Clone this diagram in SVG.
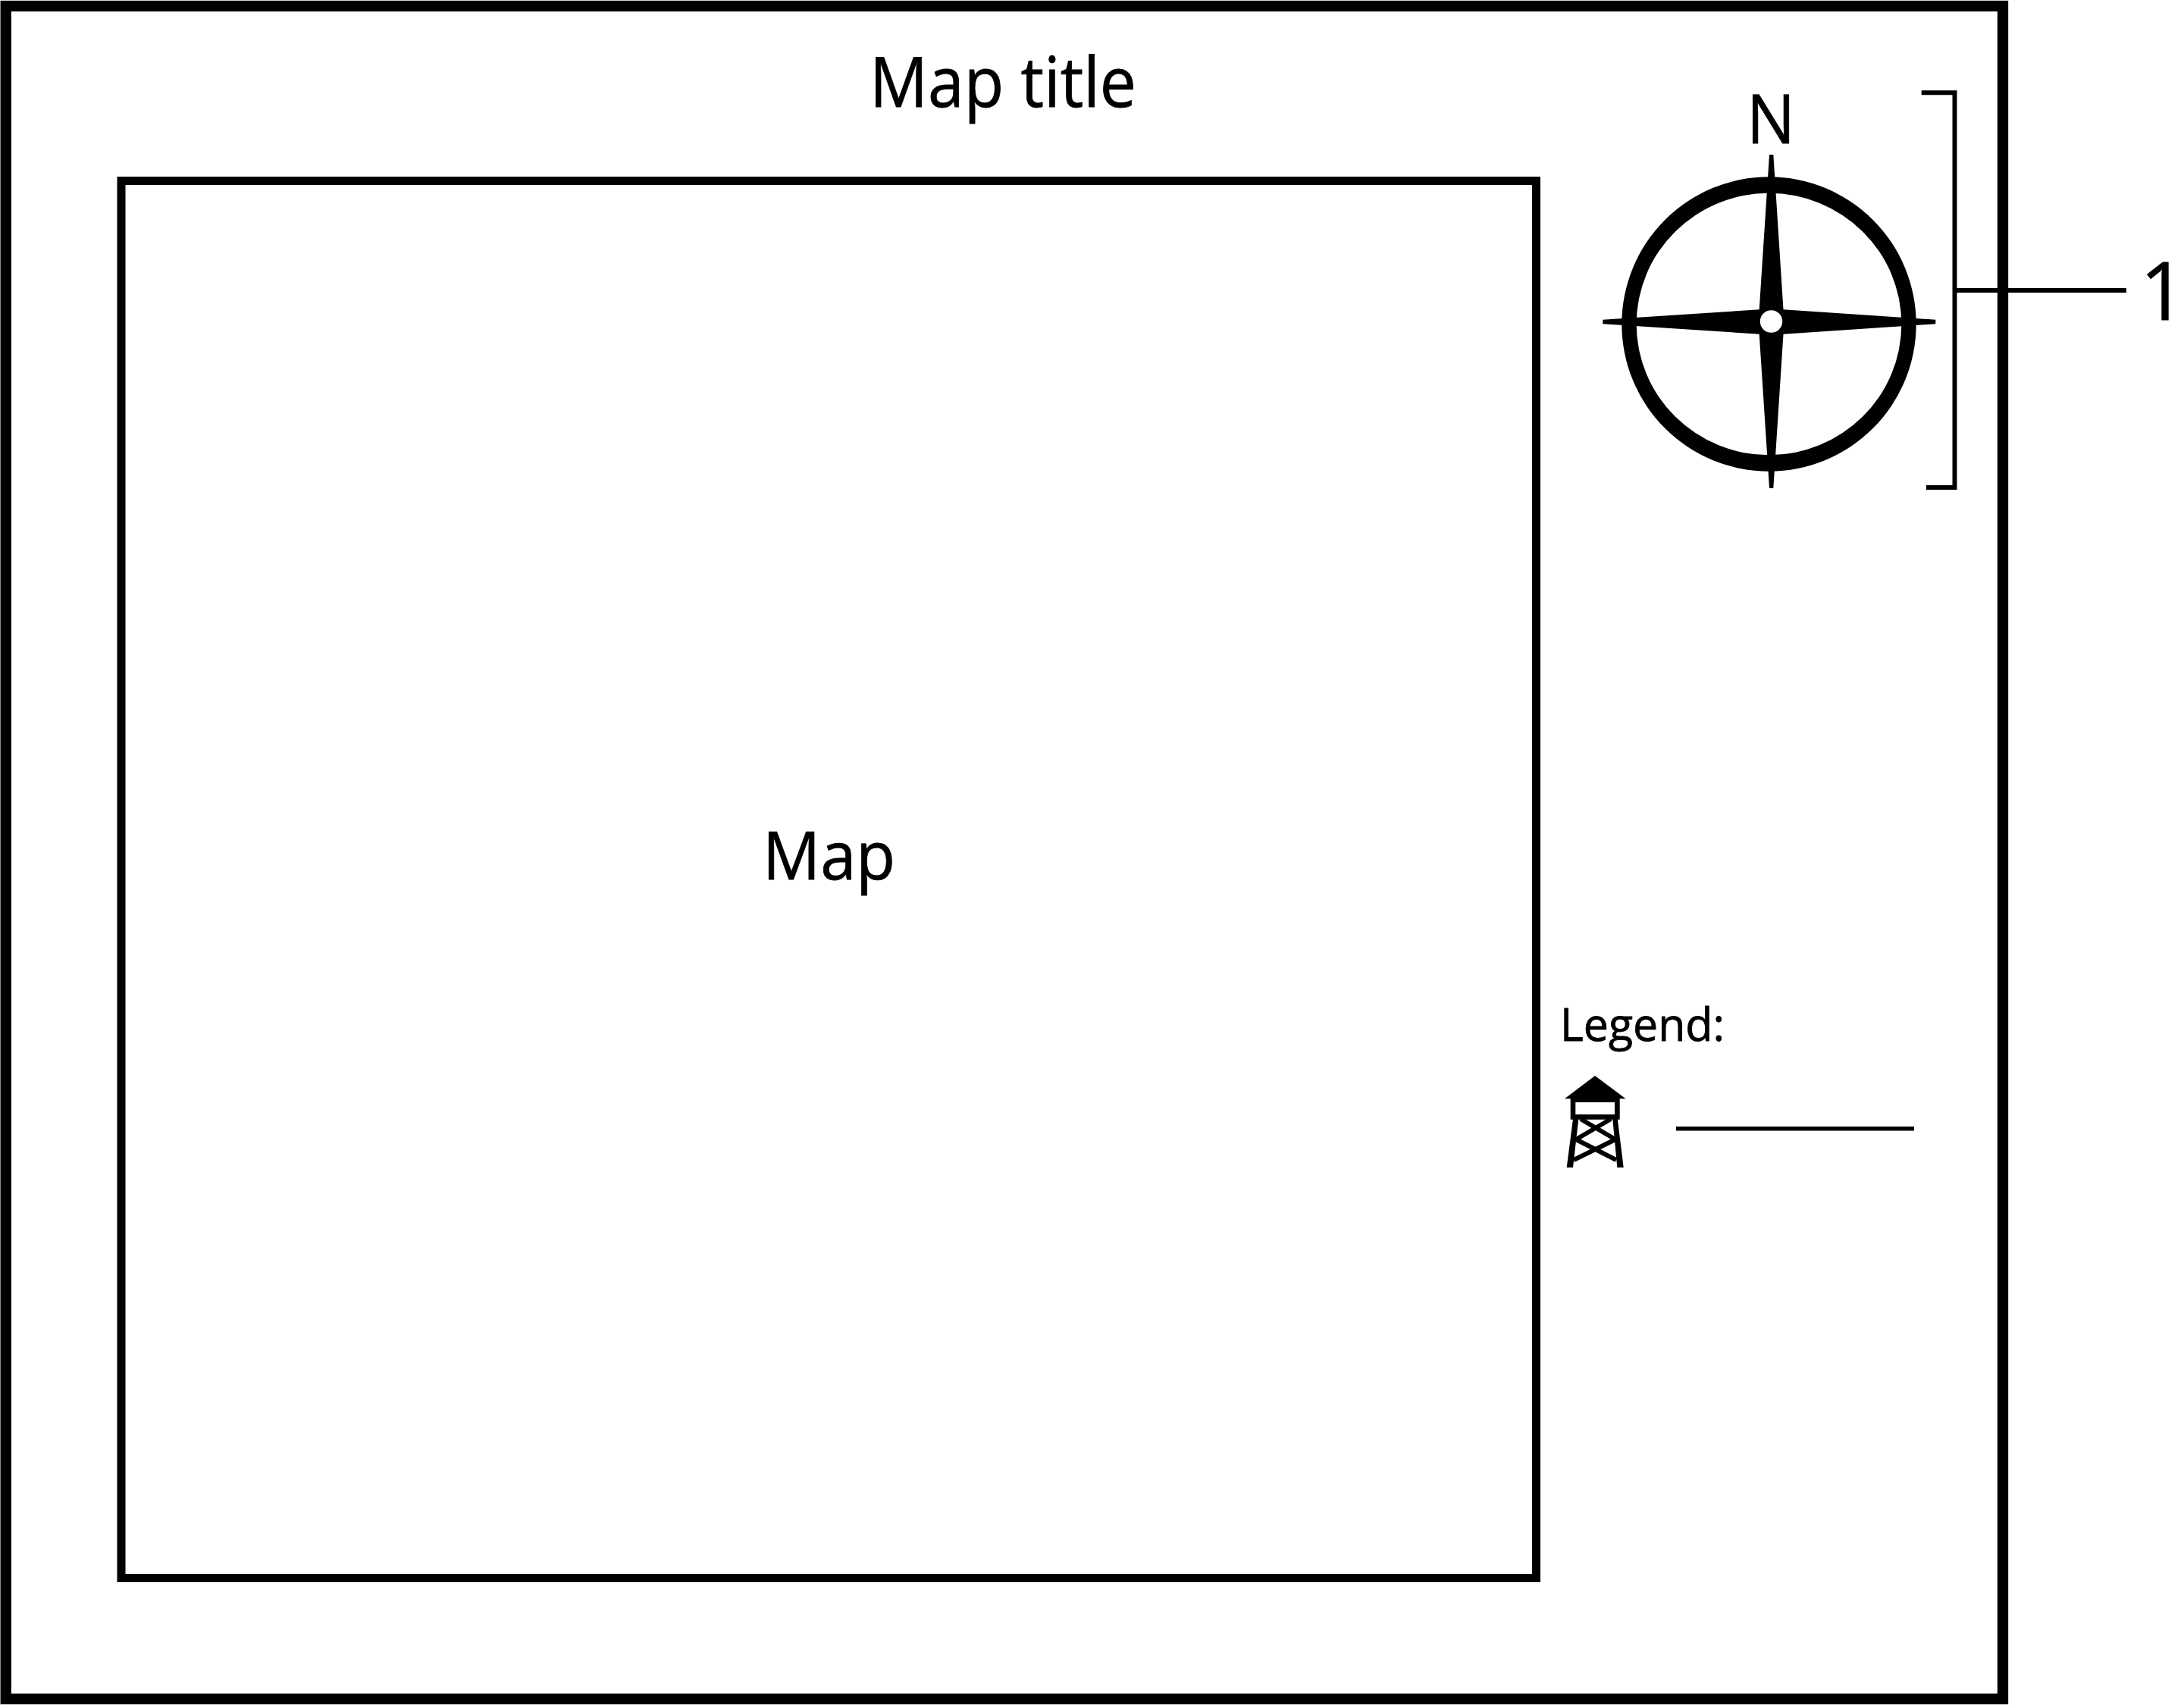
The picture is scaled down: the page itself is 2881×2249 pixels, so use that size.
<svg xmlns="http://www.w3.org/2000/svg" width="2881" height="2249" viewBox="0 0 2881 2249">
<style>
text{font-family:"Open Sans","Noto Sans","Liberation Sans",sans-serif;fill:#000;stroke:#000;stroke-width:.8}
.frame{fill:none;stroke:#000;stroke-miterlimit:10}
.c{fill:none;stroke:#000;stroke-width:6}
.tw{fill:none;stroke:#000;stroke-width:6}
</style>
<rect width="2881" height="2249" fill="#fff"/>
<g id="sheet"><rect class="frame" x="7.700" y="8" width="2634.300" height="2233" stroke-width="14.300"/></g>
<g id="map"><rect class="frame" x="160" y="238.500" width="1866.500" height="1843" stroke-width="11"/>
<text x="1006" y="1160" font-size="88" textLength="175" lengthAdjust="spacingAndGlyphs">Map</text></g>
<g id="title"><text x="1147" y="141" font-size="91" textLength="352" lengthAdjust="spacingAndGlyphs">Map title</text></g>
<g id="compass">
<text x="2304" y="189" font-size="90" textLength="64" lengthAdjust="spacingAndGlyphs">N</text>
<path d="M2139.300 427.500A194.200 194.200 0 0 1 2527.700 427.500A194.200 194.200 0 0 1 2139.300 427.500ZM2158.700 427.500A174.800 172.700 0 0 0 2508.300 427.500A174.800 172.700 0 0 0 2158.700 427.500Z" fill="#000" fill-rule="evenodd"/>
<polygon points="2334,204 2339.300,204 2352.500,408.300 2553.300,421.700 2553.300,427.300 2352.500,440.700 2339.300,644 2334,644 2320.700,440.700 2114.300,427.300 2114.300,421.700 2320.700,408.300" fill="#000"/>
<circle cx="2336.500" cy="424" r="14.700" fill="#fff"/>
</g>
<g id="connectors">
<path class="c" d="M2534.700 122.200H2578.500V643H2541"/>
<path class="c" d="M2581 383H2805"/>
</g>
<g id="label-1"><text x="2823" y="422" font-size="106">1</text></g>
<g id="legend">
<text x="2058" y="1373" font-size="61" textLength="217" lengthAdjust="spacingAndGlyphs">Legend:</text>
<g id="tower">
<path d="M2104 1419L2144.500 1449.300H2136.700V1476.700H2071.700V1449.300H2064Z M2078.300 1454V1470H2130V1454Z" fill="#000" fill-rule="evenodd"/>
<path d="M2075 1476L2066.700 1540H2075L2082.300 1476Z M2127.300 1476L2133.300 1540H2141.700L2133.800 1476Z" fill="#000"/>
<path class="tw" d="M2085 1476L2131 1503M2125 1476L2079 1503M2079 1503L2132 1530M2131 1503L2076 1530"/>
</g>
<path d="M2211 1488.800H2525" fill="none" stroke="#000" stroke-width="5.500"/>
</g>
</svg>
